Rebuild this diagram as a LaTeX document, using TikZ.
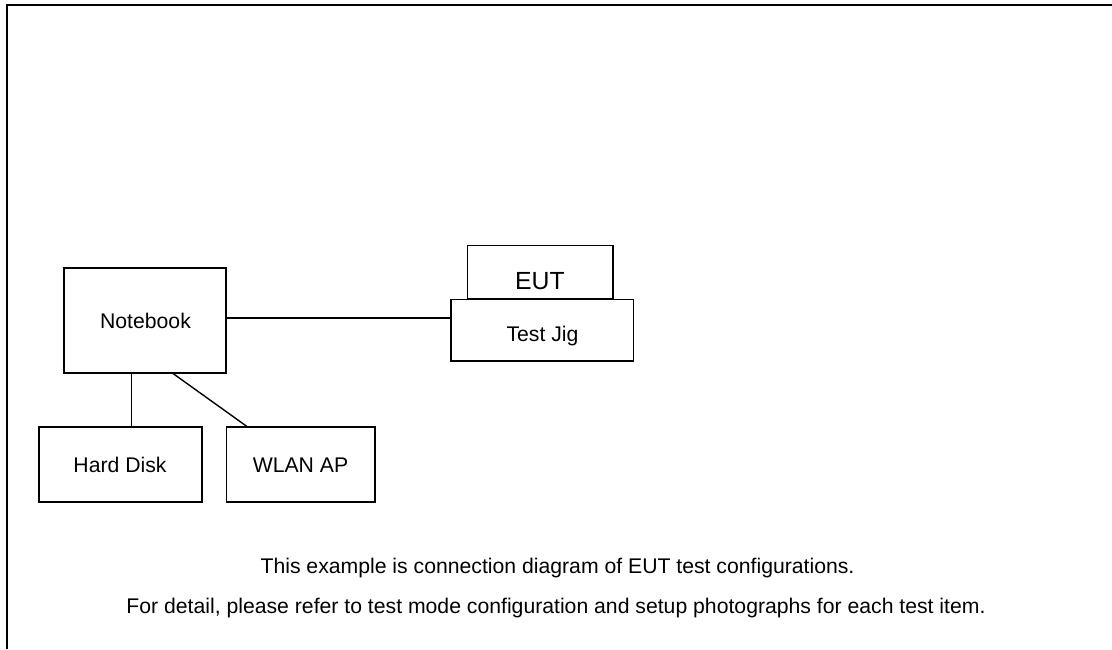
\documentclass[tikz,border=0pt]{standalone}
\usepackage{fontspec}
\setmainfont{Liberation Sans}
\begin{document}
\begin{tikzpicture}[x=1pt,y=-1pt,
  boxnode/.style={draw, line width=1.4pt, inner sep=0pt, rectangle},
  lbl/.style={inner sep=0pt, anchor=base, font=\fontsize{21.2}{24}\selectfont},
  biglbl/.style={inner sep=0pt, anchor=base, font=\fontsize{24.8}{28}\selectfont},
  conn/.style={line width=1.4pt},
  frameline/.style={line width=2.6pt}]
\useasboundingbox (0,0) rectangle (1112,649);
\fill[white] (0,0) rectangle (1112,649);
% outer frame (only left and top edges visible)
\draw[frameline] (7,649) -- (7,5) -- (1112,5);
% boxes
\node[boxnode, minimum width=162pt, minimum height=105pt] (nb) at (145,320.5) {};
\node[boxnode, minimum width=163pt, minimum height=75pt] (hd) at (120.5,464.5) {};
\node[boxnode, minimum width=148.3pt, minimum height=75pt] (wl) at (300.8,464.5) {};
\node[boxnode, minimum width=145.7pt, minimum height=53.3pt] (eut) at (540.2,272.4) {};
\node[boxnode, minimum width=182.3pt, minimum height=61.7pt] (jig) at (542.2,330.2) {};
% labels
\node[lbl] (nbl) at (145.5,328) {Notebook};
\node[lbl] (hdl) at (120,472) {Hard Disk};
\node[lbl] (wll) at (300.5,472) {WLAN AP};
\node[lbl] (jigl) at (542.5,341) {Test Jig};
\node[biglbl] (eutl) at (540,289.5) {EUT};
% connectors
\draw[conn] ([yshift=2.5pt]nb.east) -- ([yshift=2.5pt]nb.east -| jig.west);
\draw[conn] ([xshift=-13.3pt]nb.south) -- ([xshift=-13.3pt]nb.south |- hd.north);
\draw[conn] ([xshift=28.3pt]nb.south) -- ([xshift=-54.1pt]wl.north);
% notes
\node[lbl] (note1) at (557.5,573) {This example is connection diagram of EUT test configurations.};
\node[lbl] (note2) at (556,613) {For detail, please refer to test mode configuration and setup photographs for each test item.};
\end{tikzpicture}
\end{document}
